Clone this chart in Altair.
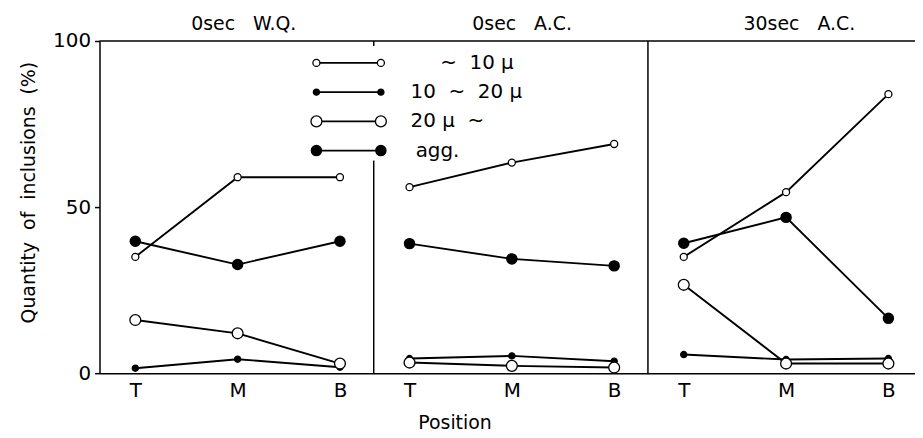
import altair as alt
import pandas as pd

NB = "\u00a0"

# ---------------- data ----------------
positions = ["T", "M", "B"]
panels = [f"0sec{NB*3}W.Q.", f"0sec{NB*3}A.C.", f"30sec{NB*3}A.C."]
series = ["~10μ", "10~20μ", "20μ~", "agg."]
legend_labels = [f"~{NB*2}10{NB}μ", f"10{NB*2}~{NB*2}20{NB}μ", f"20{NB}μ{NB*2}~", "agg."]
y_title = f"Quantity{NB*2}of{NB*2}inclusions{NB*2}(%)"

# values per panel (rows) at T, M, B
fine = [[35.0, 59.0, 59.0], [56.0, 63.4, 69.0], [35.0, 54.5, 84.0]]        # ~10μ
medium = [[1.5, 4.2, 1.8], [4.4, 5.2, 3.6], [5.6, 4.1, 4.4]]             # 10~20μ
coarse = [[16.0, 12.0, 2.9], [3.2, 2.2, 1.7], [26.6, 2.9, 2.9]]          # 20μ~
agg = [[39.7, 32.7, 39.7], [39.0, 34.4, 32.3], [39.1, 46.9, 16.5]]       # agg.

# ---------------- layout / style constants ----------------
P = 2.68                      # panel offset on the shared x scale
XMIN, XMAX = -0.35, 7.62
W, H = 820, 334
FONT = "DejaVu Sans"
marker_fill = ["white", "black", "white", "black"]
marker_size = [50, 38, 120, 105]

rows = []
for si, vals in enumerate([fine, medium, coarse, agg]):
    for pi in range(3):
        for qi in range(3):
            rows.append({
                "series": series[si],
                "panel": panels[pi],
                "pos": positions[qi],
                "x": pi * P + qi,
                "value": vals[pi][qi],
                "grp": f"{pi}-{si}",
            })
df = pd.DataFrame(rows)

xscale = alt.Scale(domain=[XMIN, XMAX], nice=False, zero=False)
yscale = alt.Scale(domain=[0, 100], nice=False, zero=True)
xvals = [pi * P + qi for pi in range(3) for qi in range(3)]

X_AX = alt.Axis(
    values=xvals,
    labelExpr=f"['T','M','B'][round(datum.value - {P}*floor((datum.value+0.3)/{P}))]",
    ticks=False, tickSize=0, labelFontSize=20, labelPadding=7,
    title="Position", titleFontSize=19, titleFontWeight="normal",
    titleX=357, titleY=50, titleAlign="center", titleBaseline="middle",
    domainWidth=1.5, grid=False,
)
Y_AX = alt.Axis(
    values=[0, 50, 100], tickSize=5, tickWidth=1.5, labelFontSize=20,
    labelPadding=4, title=y_title, titleFontSize=19, titleY=152,
    titleFontWeight="normal", titlePadding=14, domainWidth=1.5, grid=False,
)


def X(field):
    return alt.X(field, scale=xscale, axis=X_AX)


def Y(field):
    return alt.Y(field, scale=yscale, axis=Y_AX)


lines = alt.Chart(df).mark_line(color="black", strokeWidth=1.9).encode(
    x=X("x:Q"), y=Y("value:Q"), detail="grp:N"
)

point_layers = []
for s, f, sz in zip(series, marker_fill, marker_size):
    point_layers.append(
        alt.Chart(df).transform_filter(alt.datum.series == s).mark_point(
            shape="circle", filled=True, fill=f, stroke="black",
            strokeWidth=1.3, opacity=1, size=sz,
        ).encode(x=X("x:Q"), y=Y("value:Q"))
    )

# frame: top border and panel dividers
top = alt.Chart(pd.DataFrame({"x": [XMIN], "x2": [XMAX], "y": [100]})).mark_rule(
    color="black", strokeWidth=1.5
).encode(x=X("x:Q"), x2="x2:Q", y=Y("y:Q"))

div_df = pd.DataFrame({
    "x": [P - 0.35, P - 0.35, 2 * P - 0.35],
    "y": [0, 98.5, 0],
    "y2": [64, 100, 100],
})
dividers = alt.Chart(div_df).mark_rule(color="black", strokeWidth=1.5).encode(
    x=X("x:Q"), y=Y("y:Q"), y2="y2:Q",
)

# panel titles
title_df = pd.DataFrame({"panel": panels, "x": [1.06, P + 1.10, 2 * P + 1.13]})
titles = alt.Chart(title_df).mark_text(
    fontSize=19, font=FONT, color="black", baseline="middle"
).encode(x=X("x:Q"), y=alt.value(-17), text="panel:N")

# legend
leg_y = [93.4 - 8.8 * i for i in range(4)]
leg_text_x = [2.98, 2.69, 2.69, 2.74]
leg_df = pd.DataFrame({
    "series": series, "label": legend_labels, "y": leg_y,
    "x1": [1.77] * 4, "x2": [2.40] * 4, "tx": leg_text_x,
})
leg_pts_df = pd.concat([
    leg_df.assign(x=leg_df["x1"]), leg_df.assign(x=leg_df["x2"])
])
leg_lines = alt.Chart(leg_df).mark_rule(color="black", strokeWidth=1.9).encode(
    x=X("x1:Q"), x2="x2:Q", y=Y("y:Q"),
)
leg_pt_layers = []
for s, f, sz in zip(series, marker_fill, marker_size):
    leg_pt_layers.append(
        alt.Chart(leg_pts_df).transform_filter(alt.datum.series == s).mark_point(
            shape="circle", filled=True, fill=f, stroke="black",
            strokeWidth=1.3, opacity=1, size=sz,
        ).encode(x=X("x:Q"), y=Y("y:Q"))
    )
leg_text = alt.Chart(leg_df).mark_text(
    align="left", baseline="middle", fontSize=20, font=FONT, color="black"
).encode(x=X("tx:Q"), y=Y("y:Q"), text="label:N")

chart = alt.layer(
    lines, top, dividers, *point_layers, titles, leg_lines, *leg_pt_layers, leg_text
).properties(
    width=W, height=H,
    padding={"left": 92, "top": 32, "right": 0, "bottom": 62},
    autosize=alt.AutoSizeParams(type="none"),
    background="white",
).configure_view(stroke=None).configure_axis(
    domainColor="black", tickColor="black", labelColor="black",
    titleColor="black", labelFont=FONT, titleFont=FONT,
)

chart.save("out.html", embed_options={"renderer": "svg", "actions": False})
